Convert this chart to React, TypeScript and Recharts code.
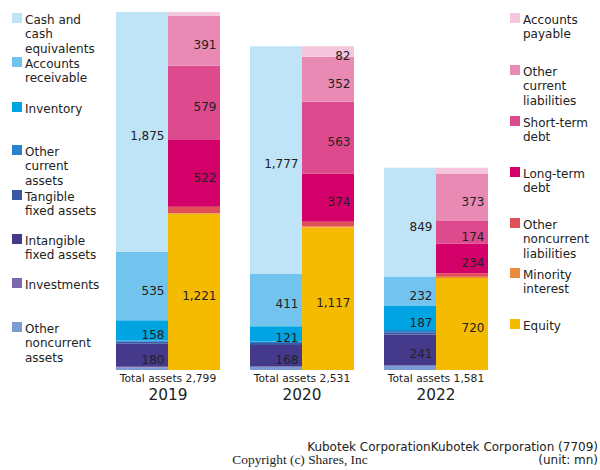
import React from 'react'
import { BarChart, Bar, XAxis, YAxis, LabelList } from 'recharts'

const years = ['2019', '2020', '2022']
const totalAssets = [2799, 2531, 1581]

// assets, bottom to top
const otherNoncurrentAssets = [19, 23, 33]
const investments = [6, 5, 3]
const intangibleAssets = [180, 168, 241]
const tangibleAssets = [16, 16, 18]
const otherCurrentAssets = [10, 10, 18]
const inventory = [158, 121, 187]
const receivables = [535, 411, 232]
const cash = [1875, 1777, 849]

// liabilities + equity, bottom to top
const equity = [1221, 1117, 720]
const minorityInterest = [4, 4, 10]
const otherNoncurrentLiab = [52, 39, 26]
const longTermDebt = [522, 374, 234]
const shortTermDebt = [579, 563, 174]
const otherCurrentLiab = [391, 352, 373]
const payables = [30, 82, 44]

const assetSeries = [
  { key: 'otherNoncurrentAssets', name: 'Other\nnoncurrent\nassets', values: otherNoncurrentAssets, color: '#7b9bd3' },
  { key: 'investments', name: 'Investments', values: investments, color: '#7d67ad' },
  { key: 'intangibleAssets', name: 'Intangible\nfixed assets', values: intangibleAssets, color: '#45398b' },
  { key: 'tangibleAssets', name: 'Tangible\nfixed assets', values: tangibleAssets, color: '#3b5aa6' },
  { key: 'otherCurrentAssets', name: 'Other\ncurrent\nassets', values: otherCurrentAssets, color: '#2a82cc' },
  { key: 'inventory', name: 'Inventory', values: inventory, color: '#00a4e3' },
  { key: 'receivables', name: 'Accounts\nreceivable', values: receivables, color: '#73c3ef' },
  { key: 'cash', name: 'Cash and\ncash\nequivalents', values: cash, color: '#bfe3f7' },
]

const liabSeries = [
  { key: 'equity', name: 'Equity', values: equity, color: '#f5bb00' },
  { key: 'minorityInterest', name: 'Minority\ninterest', values: minorityInterest, color: '#ec8a3c' },
  { key: 'otherNoncurrentLiab', name: 'Other\nnoncurrent\nliabilities', values: otherNoncurrentLiab, color: '#e04f55' },
  { key: 'longTermDebt', name: 'Long-term\ndebt', values: longTermDebt, color: '#d4006a' },
  { key: 'shortTermDebt', name: 'Short-term\ndebt', values: shortTermDebt, color: '#dd4a8d' },
  { key: 'otherCurrentLiab', name: 'Other\ncurrent\nliabilities', values: otherCurrentLiab, color: '#e88ab4' },
  { key: 'payables', name: 'Accounts\npayable', values: payables, color: '#f5c6dc' },
]

const data = years.map((year, i) => {
  const row: any = { year, total: totalAssets[i] }
  assetSeries.forEach((s) => (row[s.key] = s.values[i]))
  liabSeries.forEach((s) => (row[s.key] = s.values[i]))
  return row
})

const FONT = '"DejaVu Sans", sans-serif'

// value label: right aligned in the segment, top of the text at its middle
const SegmentLabel = (props: any) => {
  const { x, y, width, height, value } = props
  if (value == null || value < 80) return null
  return (
    <text
      x={x + width - 3.5}
      y={y + height / 2 + 8.5}
      textAnchor="end"
      fontSize={12}
      fontFamily={FONT}
      fill="#222"
    >
      {value.toLocaleString('en-US')}
    </text>
  )
}

const YearTick = (props: any) => {
  const { x, y, payload, index } = props
  const total = totalAssets[index] ?? totalAssets[years.indexOf(payload.value)]
  return (
    <g>
      <text x={x} y={y + 12} textAnchor="middle" fontSize={10.7} fontFamily={FONT} fill="#222">
        {'Total assets ' + total.toLocaleString('en-US')}
      </text>
      <text x={x} y={y + 30} textAnchor="middle" fontSize={15.3} fontFamily={FONT} fill="#222">
        {payload.value}
      </text>
    </g>
  )
}

const LegendColumn = ({ items, x, tops }: { items: any[]; x: number; tops: number[] }) => (
  <g>
    {items.map((s, i) => (
      <g key={s.key}>
        <rect x={x} y={tops[i]} width={10} height={10} fill={s.color} />
        <text x={x + 13} y={tops[i] + 10.5} fontSize={12} fontFamily={FONT} fill="#222">
          {s.name.split('\n').map((line: string, j: number) => (
            <tspan key={j} x={x + 13} dy={j === 0 ? 0 : 14.5}>
              {line}
            </tspan>
          ))}
        </text>
      </g>
    ))}
  </g>
)

export default function App() {
  const leftLegend = [...assetSeries].reverse()
  const rightLegend = [...liabSeries].reverse()
  return (
    <div style={{ position: 'absolute', left: 0, top: 0, width: 600, height: 470 }}>
      <BarChart
        width={600}
        height={470}
        data={data}
        margin={{ top: 12, right: 97, bottom: 70, left: 101 }}
        barSize={52}
        barGap={0}
      >
        <XAxis
          dataKey="year"
          axisLine={false}
          tickLine={false}
          tickSize={0}
          tickMargin={0}
          height={30}
          interval={0}
          tick={<YearTick />}
        />
        <YAxis hide domain={[0, 2799]} />
        {assetSeries.map((s) => (
          <Bar key={s.key} dataKey={s.key} stackId="assets" fill={s.color} isAnimationActive={false}>
            <LabelList dataKey={s.key} content={<SegmentLabel />} />
          </Bar>
        ))}
        {liabSeries.map((s) => (
          <Bar key={s.key} dataKey={s.key} stackId="liab" fill={s.color} isAnimationActive={false}>
            <LabelList dataKey={s.key} content={<SegmentLabel />} />
          </Bar>
        ))}
      </BarChart>
      <svg
        width={600}
        height={470}
        style={{ position: 'absolute', left: 0, top: 0, pointerEvents: 'none' }}
      >
        <LegendColumn items={leftLegend} x={12} tops={[13, 57, 102, 145, 190, 234, 278, 322]} />
        <LegendColumn items={rightLegend} x={510} tops={[13, 65, 116, 167, 218, 268, 319]} />
        <text x={598} y={451} textAnchor="end" fontSize={12} fontFamily={FONT} fill="#222">
          Kubotek CorporationKubotek Corporation (7709)
        </text>
        <text x={598} y={464} textAnchor="end" fontSize={12} fontFamily={FONT} fill="#222">
          (unit: mn)
        </text>
        <text x={300} y={464} textAnchor="middle" fontSize={13.4} fontFamily='"Liberation Serif", serif' fill="#222">
          Copyright (c) Shares, Inc
        </text>
      </svg>
    </div>
  )
}
